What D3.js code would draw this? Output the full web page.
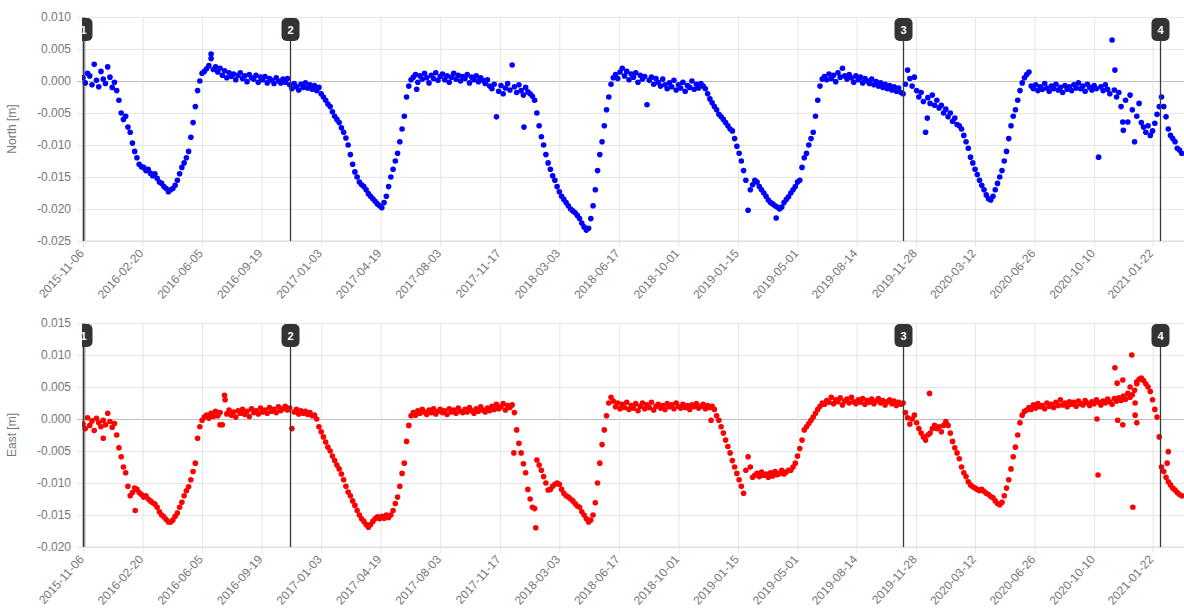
<!DOCTYPE html>
<html><head><meta charset="utf-8">
<script src="https://cdn.jsdelivr.net/npm/d3@7"></script>
<style>
body{margin:0;background:#fff;}
svg{display:block;font-family:"Liberation Sans",Arial,Helvetica,sans-serif;}
</style>
</head><body><svg id="chart" width="1184" height="611"></svg>
<script>
// ---------- DATA ----------
const startDate = "2015-11-06";
const endDate = "2021-03-19";
const stepDays = 4; // one sample every 4 days from startDate
// North displacement, millimetres
const northMm = [
0.5,-0.3,1.2,0.8,-0.6,2.6,0.1,-0.9,1.5,0.3,
-0.4,2.2,0.6,-1.0,-0.2,-1.5,-3.0,-5.0,-6.0,-5.5,
-7.2,-8.0,-9.7,-11.0,-12.0,-13.0,-13.4,-13.5,-14.0,-13.8,
-14.4,-14.8,-14.5,-15.2,-15.8,-16.0,-16.5,-16.8,-17.3,-17.0,
-16.8,-16.3,-15.5,-14.5,-13.5,-12.8,-12.0,-11.0,-8.8,-6.5,
-4.0,-1.5,0.0,1.2,1.5,1.9,2.4,3.5,1.8,2.2,
1.4,2.0,0.9,1.6,0.5,1.3,0.7,1.1,0.2,0.9,
1.3,0.4,0.8,-0.1,1.0,0.5,0.3,0.9,-0.2,0.6,
0.2,0.7,-0.3,0.4,0.1,-0.4,0.5,0.0,-0.3,0.3,
-0.2,0.4,-0.6,-1.2,-0.4,-0.9,-1.4,-0.5,-1.0,-0.3,
-1.1,-0.6,-1.3,-0.7,-1.5,-1.0,-2.0,-2.5,-3.0,-3.6,
-4.0,-4.8,-5.5,-6.0,-6.5,-7.3,-8.0,-8.9,-10.0,-11.5,
-13.0,-14.2,-15.0,-15.8,-16.2,-16.5,-17.0,-17.6,-18.0,-18.4,
-18.8,-19.2,-19.5,-19.8,-19.0,-18.0,-16.5,-15.0,-13.8,-12.5,
-11.3,-9.5,-7.5,-5.5,-2.5,-0.8,0.2,0.6,1.0,-0.2,
0.8,0.3,1.2,0.5,-0.3,0.9,0.4,1.3,0.1,0.7,
1.1,0.2,0.8,-0.2,0.6,1.2,0.3,0.9,0.0,0.7,
0.4,1.0,-0.3,0.6,0.2,0.8,-0.1,0.5,0.1,-0.4,
0.2,-0.8,-1.2,-0.5,-5.6,-1.6,-0.7,-2.0,-1.1,-0.4,
-1.4,2.5,-0.9,-1.8,-0.6,-1.5,-2.2,-1.0,-1.7,-2.0,
-2.4,-3.0,-5.0,-7.0,-8.7,-10.0,-11.5,-12.8,-13.8,-14.8,
-15.5,-16.5,-17.3,-18.0,-18.5,-19.0,-19.5,-20.0,-20.3,-20.6,
-21.0,-21.5,-22.2,-22.8,-23.3,-23.0,-21.5,-19.5,-17.0,-14.0,
-11.5,-9.5,-7.0,-4.5,-2.5,-0.5,0.5,1.0,0.4,1.4,
2.0,0.8,1.5,0.2,1.1,0.6,1.3,-0.2,0.9,0.3,
0.7,-3.7,0.1,0.6,-0.5,0.4,-0.2,-0.8,0.3,-0.6,
-1.2,-0.3,-0.9,0.1,-1.4,-0.6,-1.1,-0.2,-1.6,-0.7,
-1.0,0.0,-1.3,-0.5,-1.1,-0.4,-0.8,-1.2,-2.0,-2.8,
-3.4,-4.0,-4.5,-5.2,-5.6,-6.0,-6.5,-7.0,-7.5,-7.8,
-9.0,-10.2,-11.3,-12.5,-14.0,-15.5,-20.2,-17.0,-16.2,-15.5,
-15.8,-16.5,-17.0,-17.5,-18.0,-18.6,-19.0,-19.2,-19.5,-19.7,
-20.0,-19.7,-19.0,-18.5,-18.1,-17.5,-17.0,-16.5,-15.8,-15.5,
-13.5,-12.0,-11.3,-10.0,-9.0,-8.0,-5.5,-3.0,-0.8,0.3,
0.7,0.2,1.1,0.4,0.9,-0.1,1.3,0.6,2.0,0.8,
0.3,1.0,0.5,-0.2,0.8,0.2,0.6,-0.3,0.4,0.0,
-0.4,0.3,-0.6,-0.1,-0.8,-0.3,-1.0,-0.5,-1.2,-0.7,
-1.4,-0.9,-1.6,-1.1,-1.8,-2.0,-0.5,1.7,0.4,-0.8,
0.6,-1.5,-2.5,-1.8,-3.2,-8.0,-2.6,-3.5,-2.2,-3.8,
-3.0,-4.2,-3.8,-5.0,-4.4,-5.6,-5.0,-6.3,-5.8,-6.8,
-7.0,-7.5,-8.5,-9.5,-10.5,-11.9,-12.8,-13.8,-14.6,-15.5,
-16.3,-17.0,-17.8,-18.4,-18.6,-18.0,-17.0,-16.0,-15.0,-14.0,
-12.5,-11.0,-9.0,-7.0,-5.5,-4.5,-3.0,-1.5,-0.3,0.5,
1.0,1.4,-0.8,-1.2,-0.6,-1.5,-0.9,-1.3,-0.4,-1.1,
-1.6,-0.8,-1.2,-0.5,-1.4,-1.0,-1.8,-0.7,-1.3,-0.9,
-1.5,-0.6,-1.1,-0.3,-1.2,-0.8,-1.6,-0.5,-1.0,-1.4,
-0.7,-1.2,-11.9,-0.9,-1.5,-0.6,-1.3,-2.0,6.4,-1.4,
-2.5,-1.8,-4.0,-7.7,-3.0,-6.4,-2.2,-4.5,-9.5,-5.5,
-3.5,-6.5,-7.2,-8.0,-7.0,-8.5,-7.8,-6.6,-5.2,-4.0,
-2.5,-4.0,-5.6,-7.5,-8.5,-9.0,-9.5,-10.5,-10.8,-11.3
];
// East displacement, millimetres
const eastMm = [
-0.8,-1.5,0.2,-1.0,-0.3,-1.8,0.1,-0.6,-1.2,-0.2,
-0.9,0.9,-0.4,-1.3,-0.7,-2.5,-4.5,-5.9,-7.5,-8.4,
-10.5,-12.0,-11.5,-10.8,-11.0,-11.5,-11.8,-12.2,-12.0,-12.5,
-12.8,-13.1,-13.3,-13.8,-14.5,-15.0,-15.3,-15.7,-16.1,-16.1,
-15.8,-15.2,-14.7,-13.8,-13.0,-12.0,-11.2,-10.6,-9.5,-8.2,
-6.9,-3.0,-1.2,-0.2,0.3,0.6,0.1,0.9,0.4,1.2,
0.5,1.0,-0.9,3.7,0.8,1.4,0.6,1.1,0.3,1.3,
0.9,1.5,0.7,1.2,0.4,1.6,1.0,1.3,0.8,1.7,
1.1,1.4,0.9,1.8,1.2,1.5,1.0,1.9,1.3,1.6,
2.0,1.4,1.7,-1.5,1.1,1.5,0.8,1.3,0.9,1.2,
0.7,1.0,0.5,0.6,0.0,-1.2,-2.0,-2.8,-3.6,-4.4,
-5.0,-5.8,-6.5,-7.2,-7.8,-8.6,-9.5,-10.5,-11.4,-12.0,
-12.8,-13.5,-14.3,-15.0,-15.6,-16.0,-16.5,-16.9,-16.5,-16.0,
-15.6,-15.3,-15.6,-15.2,-15.5,-15.0,-15.4,-15.0,-14.3,-13.2,
-12.2,-10.5,-8.5,-6.9,-3.5,-1.0,0.5,1.0,0.6,1.3,
0.9,1.5,1.1,0.7,1.4,1.0,1.6,0.8,1.2,1.5,
1.0,1.3,0.7,1.6,1.1,1.4,0.9,1.7,1.2,1.0,
1.5,1.1,1.8,1.3,0.9,1.6,1.2,1.9,1.4,1.1,
1.7,1.3,2.0,1.5,2.3,1.6,1.9,2.4,1.4,2.1,
1.8,2.2,1.0,-1.7,-3.8,-5.3,-7.0,-8.4,-11.0,-12.5,
-13.8,-14.0,-6.4,-7.2,-8.0,-9.0,-10.0,-11.1,-11.0,-10.5,
-10.2,-10.0,-10.2,-11.0,-11.6,-12.0,-12.2,-12.5,-12.8,-13.2,
-13.6,-13.8,-14.5,-15.0,-15.6,-16.1,-15.8,-15.0,-13.1,-10.0,
-6.9,-4.0,-1.7,0.5,2.5,3.4,2.8,1.9,2.5,1.6,
2.3,1.8,2.6,1.5,2.1,1.7,2.4,1.3,2.0,2.5,
1.6,2.2,1.8,2.6,1.4,2.0,2.3,1.7,2.1,1.5,
2.4,1.9,2.2,1.6,2.5,2.0,1.7,2.3,1.8,2.1,
1.5,2.2,1.9,2.4,1.7,2.0,2.3,1.6,2.1,1.8,
2.0,1.5,0.5,-0.2,-1.2,-2.2,-3.3,-4.3,-5.3,-6.5,
-7.5,-8.5,-9.5,-10.5,-11.6,-8.0,-5.9,-7.5,-9.1,-8.8,
-8.5,-9.0,-8.3,-8.8,-8.6,-9.1,-8.4,-8.9,-8.2,-8.7,
-8.5,-8.0,-8.6,-8.3,-8.0,-8.0,-7.5,-6.9,-5.8,-4.6,
-3.3,-1.7,-1.2,-0.7,-0.2,0.3,0.9,1.5,2.0,2.5,
2.3,2.9,2.6,3.4,2.4,3.0,2.7,3.3,2.2,2.8,
3.1,2.5,3.4,2.7,2.4,3.0,2.6,3.2,2.3,2.9,
2.6,3.1,2.4,2.8,3.2,2.5,2.9,2.2,2.7,3.0,
2.4,2.8,2.1,2.6,2.3,2.5,1.0,0.2,-0.8,0.0,
0.6,-0.6,-1.5,-2.2,-2.8,-3.3,-2.5,-2.2,-1.5,-1.0,
-1.5,-1.2,-2.0,-1.0,-0.4,-1.0,-2.2,-3.5,-4.5,-5.3,
-6.2,-7.5,-8.4,-9.0,-9.8,-10.3,-10.6,-10.8,-11.0,-11.2,
-11.0,-11.3,-11.6,-11.8,-12.1,-12.3,-12.8,-13.2,-13.4,-13.0,
-12.0,-10.8,-9.5,-7.8,-5.9,-4.4,-2.5,-0.6,0.6,1.2,
1.4,1.8,1.5,2.2,1.7,2.4,1.9,2.1,1.6,2.5,
2.0,2.3,1.8,2.6,2.1,3.0,2.2,2.5,1.9,2.7,
2.3,2.6,2.0,2.8,2.4,2.2,2.9,2.5,2.1,2.7,
2.4,3.0,2.6,2.2,2.8,2.5,3.1,2.7,2.3,3.2,
2.8,3.3,2.9,3.6,3.1,4.0,3.4,3.8,4.5,5.5,
6.2,6.4,6.0,5.5,5.0,4.3,3.0,1.5,0.3,-2.8,
-7.5,-8.2,-9.1,-9.8,-10.3,-10.8,-11.1,-11.5,-11.8,-12.0
];
// isolated points: [days after startDate, mm]
const northExtra = [[228,4.2],[1837,1.7],[1503,-5.8],[785,-7.2],[1234,-21.4],[1851,-6.4],[594,-1.3]];
const eastExtra = [[1507,4.0],[1805,0.0],[1807,-8.75],[1837,8.0],[1841,5.6],[1851,6.1],[1842,-0.2],[1851,-0.9],
  [1867,10.0],[1864,5.0],[1873,2.5],[1873,0.6],[1876,-0.6],[1876,5.8],[1869,-13.8],[1932,-5.1],[1930,-6.9],
  [36,-3.0],[93,-14.3],[253,3.0],[244,-0.9],[806,-17.0],[767,-5.3],[1118,-0.2]];
const markerDates = ["2015-11-06","2016-11-08","2019-11-05","2021-02-05"];
const markerLabels = ["1","2","3","4"];
const xTickLabels = ["2015-11-06","2016-02-20","2016-06-05","2016-09-19","2017-01-03","2017-04-19","2017-08-03",
  "2017-11-17","2018-03-03","2018-06-17","2018-10-01","2019-01-15","2019-05-01","2019-08-14","2019-11-28",
  "2020-03-12","2020-06-26","2020-10-10","2021-01-22"];
const northTickLabels = ["0.010","0.005","0.000","-0.005","-0.010","-0.015","-0.020","-0.025"];
const eastTickLabels = ["0.015","0.010","0.005","0.000","-0.005","-0.010","-0.015","-0.020"];
const panelTitles = ["North [m]","East [m]"];
const seriesColors = ["#0000ff","#ff0000"];

// ---------- DRAW ----------
const svg = d3.select("#chart");
const parse = d3.utcParse("%Y-%m-%d");
const DAY = 86400000;
const t0 = parse(startDate);
const left = 83, right = 1184;
const x = d3.scaleUtc().domain([t0, parse(endDate)]).range([left, right]);

const defs = svg.append("defs");
defs.append("clipPath").attr("id","plotclip").append("rect")
  .attr("x", left - 1).attr("y", 0).attr("width", right - left + 2).attr("height", 611);

const panels = [
  {vals: northMm, extra: northExtra, ticks: northTickLabels, top: 17, bottom: 241, title: panelTitles[0], color: seriesColors[0]},
  {vals: eastMm, extra: eastExtra, ticks: eastTickLabels, top: 323, bottom: 547, title: panelTitles[1], color: seriesColors[1]}
];

const gridColor = "#e6e6e6";
const textColor = "#777";

panels.forEach(p => {
  const tickVals = p.ticks.map(Number);
  const y = d3.scaleLinear().domain([d3.min(tickVals), d3.max(tickVals)]).range([p.bottom, p.top]);
  const g = svg.append("g");

  // Y axis with horizontal grid lines
  const yAx = d3.axisLeft(y).tickValues(tickVals)
    .tickFormat((d, i) => p.ticks[i])
    .tickSizeInner(-(right - left + 6)).tickSizeOuter(0).tickPadding(6);
  const ya = g.append("g").attr("transform", `translate(${left - 6},0)`).call(yAx);
  ya.select(".domain").remove();
  ya.selectAll(".tick line").attr("stroke", d => d === 0 ? "#bdbdbd" : gridColor).attr("stroke-width", 1);
  ya.selectAll(".tick text").attr("fill", textColor).attr("font-size", 12);

  // X axis with vertical grid lines
  const xTicks = xTickLabels.map(parse);
  const xAx = d3.axisBottom(x).tickValues(xTicks)
    .tickFormat((d, i) => xTickLabels[i])
    .tickSizeInner(-(p.bottom - p.top + 6)).tickSizeOuter(0).tickPadding(0);
  const xa = g.append("g").attr("transform", `translate(0,${p.bottom + 6})`).call(xAx);
  xa.select(".domain").remove();
  xa.selectAll(".tick line").attr("stroke", gridColor);
  xa.selectAll(".tick text").attr("fill", textColor).attr("font-size", 12)
    .attr("text-anchor", "end").attr("dy", "0.35em").attr("dx", 0)
    .attr("transform", "translate(-2,4) rotate(-48)");

  // left border line
  g.append("line").attr("x1", left + 1).attr("x2", left + 1).attr("y1", p.top).attr("y2", p.bottom)
    .attr("stroke", "#a8a8a8").attr("stroke-width", 3);
  // bottom axis line
  g.append("line").attr("x1", left).attr("x2", right).attr("y1", p.bottom).attr("y2", p.bottom)
    .attr("stroke", "#dcdcdc");

  // Y title
  g.append("text").attr("transform", `translate(16,${(p.top + p.bottom) / 2}) rotate(-90)`)
    .attr("text-anchor", "middle").attr("fill", textColor).attr("font-size", 12).text(p.title);

  // Points
  const pts = p.vals.map((v, i) => ({t: new Date(t0.getTime() + i * stepDays * DAY), v: v / 1000}))
    .concat(p.extra.map(e => ({t: new Date(t0.getTime() + e[0] * DAY), v: e[1] / 1000})));
  g.append("g").attr("clip-path", "url(#plotclip)").selectAll("circle").data(pts).join("circle")
    .attr("cx", d => x(d.t)).attr("cy", d => y(d.v)).attr("r", 2.8)
    .attr("fill", p.color);

  // Event markers
  const mg = g.append("g").attr("clip-path", "url(#plotclip)");
  markerDates.forEach((md, i) => {
    const mx = Math.round(x(parse(md))) + 0.5;
    mg.append("line").attr("x1", mx).attr("x2", mx).attr("y1", p.top + 20).attr("y2", p.bottom)
      .attr("stroke", "#3a3a3a").attr("stroke-width", 1.3);
    mg.append("rect").attr("x", mx - 9).attr("y", p.top + 1).attr("width", 18).attr("height", 23)
      .attr("rx", 5).attr("fill", "#333");
    mg.append("text").attr("x", mx).attr("y", p.top + 17).attr("text-anchor", "middle")
      .attr("fill", "#fff").attr("font-size", 11).attr("font-weight", "bold").text(markerLabels[i]);
  });
});
</script>
</body></html>
